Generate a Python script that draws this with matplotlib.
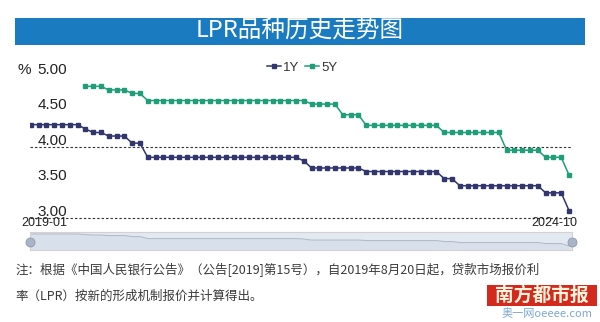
import numpy as np
import matplotlib.pyplot as plt
import matplotlib.transforms as mtransforms
from matplotlib.patches import Rectangle

# monthly LPR, 2019-01 .. 2024-10 (70 months)
months = ["2019-01", "2024-10"]
lpr_1y = ([4.31] * 7 + [4.25] + [4.20] * 2 + [4.15] * 3 + [4.05] * 2 + [3.85] * 20
          + [3.80] + [3.70] * 7 + [3.65] * 10 + [3.55] * 2 + [3.45] * 11 + [3.35] * 3 + [3.10])
lpr_5y = ([np.nan] * 7 + [4.85] * 3 + [4.80] * 3 + [4.75] * 2 + [4.65] * 21
          + [4.60] * 4 + [4.45] * 3 + [4.30] * 10 + [4.20] * 8 + [3.95] * 5 + [3.85] * 3 + [3.60])
y_ticks = [5.00, 4.50, 4.00, 3.50, 3.00]
dash_levels = [4.00, 3.00]
x = np.arange(len(lpr_1y))

W, H = 600, 322
c1y = "#33356f"
c5y = "#1f9e78"
cjk = ["Noto Sans CJK SC", "DejaVu Sans"]

fig = plt.figure(figsize=(W / 100, H / 100), dpi=100)

def box(x0, y0, x1, y1):
    # pixel box (top-left origin) -> figure rect
    return [x0 / W, 1 - y1 / H, (x1 - x0) / W, (y1 - y0) / H]

# title banner
fig.patches.append(Rectangle((15 / W, 1 - 45 / H), 570 / W, 27 / H, transform=fig.transFigure,
                             facecolor="#1b7bc1", edgecolor="none"))
fig.text(0.5, 1 - 31.5 / H, "LPR品种历史走势图", ha="center", va="center", color="white",
         fontsize=17, family=cjk)

# main chart
ax = fig.add_axes(box(30, 60, 572, 225))
ax.plot(x, lpr_1y, color=c1y, lw=1.1, marker="s", ms=2.3, label="1Y")
ax.plot(x, lpr_5y, color=c5y, lw=1.1, marker="s", ms=2.3, label="5Y")
ax.set_xlim(-0.09, 69.38)
ax.set_ylim(2.897, 5.221)
ax.axis("off")
for lv in dash_levels:
    ax.axhline(lv, color="#333333", lw=0.8, ls=(0, (2.2, 1.8)), zorder=0)

tr = mtransforms.blended_transform_factory(fig.transFigure, ax.transData)
for t in y_ticks:
    ax.text(67 / W, t + 0.03, f"{t:.2f}", transform=tr, ha="right", va="baseline",
            fontsize=11, family="Liberation Sans", color="#222222")
ax.text(17 / W, 5.03, "%", transform=tr, ha="left", va="baseline",
        fontsize=11, family="Liberation Sans", color="#222222")

fig.text(44 / W, 1 - 223.5 / H, months[0], ha="center", va="center", fontsize=9,
         family="Liberation Sans", color="#222222")
fig.text(554 / W, 1 - 223 / H, months[1], ha="center", va="center", fontsize=9,
         family="Liberation Sans", color="#222222")

leg = fig.legend(loc="center", bbox_to_anchor=(302 / W, 1 - 68 / H), ncol=2, frameon=False,
                 handlelength=1.1, handletextpad=0.15, columnspacing=0.4,
                 numpoints=1, prop={"family": "Liberation Sans", "size": 9.5})
for txt in leg.get_texts():
    txt.set_color("#333333")

# data zoom slider
sl = fig.add_axes(box(30, 232, 572, 250))
sl.set_facecolor("#e2e9f1")
sl.fill_between(x, lpr_1y, 2.0, color="#d8e1eb", lw=0)
sl.plot(x, lpr_1y, color="#b3bdc9", lw=0.8)
sl.set_xlim(-0.09, 69.38)
sl.set_ylim(2.70, 4.51)
sl.set_xticks([])
sl.set_yticks([])
for sp in sl.spines.values():
    sp.set_color("#d6d0d5")
    sp.set_linewidth(0.8)
sl.plot([0, 1], [0.45, 0.45], "o", transform=sl.transAxes, ms=6.5, color="#a9b4c6",
        mec="#8e9ab0", mew=0.6, clip_on=False, zorder=5)

# footnote
fig.text(15 / W, 1 - 270 / H,
         "注：根据《中国人民银行公告》（公告[2019]第15号），自2019年8月20日起，贷款市场报价利",
         ha="left", va="center", fontsize=9, family=cjk, color="#3a3a3a")
fig.text(15 / W, 1 - 296 / H, "率（LPR）按新的形成机制报价并计算得出。",
         ha="left", va="center", fontsize=9, family=cjk, color="#3a3a3a")

# logo
fig.patches.append(Rectangle((487 / W, 1 - 306 / H), 110 / W, 21 / H, transform=fig.transFigure,
                             facecolor="#d42a1e", edgecolor="none"))
fig.text(542 / W, 1 - 295.5 / H, "南方都市报", ha="center", va="center", color="#fff4dc",
         fontsize=13.5, fontweight="bold", family=cjk)
fig.text(547 / W, 1 - 314 / H, "奥一网oeeee.com", ha="center", va="center", color="#7fa7cf",
         fontsize=8, family=cjk)

fig.savefig("out.png", dpi=100)
